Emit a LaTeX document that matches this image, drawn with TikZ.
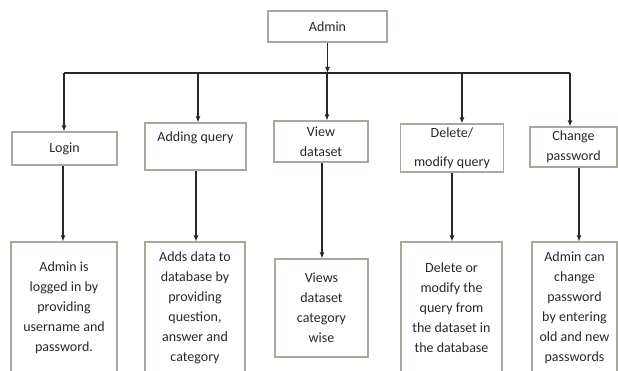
\documentclass[tikz,border=0pt]{standalone}
\usepackage{fontspec}
\setmainfont{Carlito}
\usepackage{xcolor}
\usepackage{tikz}
\usetikzlibrary{arrows.meta}
\usetikzlibrary{calc}
\usetikzlibrary{positioning}
\definecolor{boxline}{RGB}{165,170,155}
\definecolor{inkgrey}{RGB}{40,40,40}
\tikzset{
    head box/.style={
        draw=boxline,
        line width=1.1pt,
        align=center,
        text=inkgrey,
        inner sep=0pt,
        font=\fontsize{14}{20}\selectfont
    },
    desc box/.style={
        head box,
        minimum height=132pt
    },
    link/.style={
        draw=inkgrey,
        line width=1.3pt
    },
    link arrow/.style={
        link,
        -{Latex[length=6pt,width=5pt]}
    }
}
\begin{document}
\begin{tikzpicture}[x=1pt,y=-1pt]
            \useasboundingbox (0,0) rectangle (618,371);
            \node[head box,minimum width=119pt,minimum height=31pt] (admin) at (327.5,26.5) {Admin};
            \node[head box,minimum width=105pt,minimum height=33pt] (login) at (64.5,148.5) {Login};
            \node[head box,minimum width=101pt,minimum height=47pt] (adding) at (195.5,146.5) {Adding query\\\mbox{}};
            \node[head box,minimum width=94pt,minimum height=41pt] (view) at (321,141.5) {View\\dataset};
            \node[head box,minimum width=103pt,minimum height=48pt] (delete) at (452,148) {Delete/\\[9pt]modify query};
            \node[head box,minimum width=87pt,minimum height=40pt] (change) at (573.5,147) {Change\\password};
            % descriptions
            \node[desc box,minimum width=106pt] (loginD) at (64,308) {Admin is\\logged in by\\providing\\username and\\password.};
            \node[desc box,minimum width=100pt] (addingD) at (195,308) {Adds data to\\database by\\providing\\question,\\answer and\\category};
            \node[head box,minimum width=93pt,minimum height=98pt] (viewD) at (321.5,308) {Views\\dataset\\category\\wise};
            \node[desc box,minimum width=101pt] (deleteD) at (451.5,308) {Delete or\\modify the\\query from\\the dataset in\\the database};
            \node[desc box,minimum width=85pt] (changeD) at (574.5,308) {Admin can\\change\\password\\by entering\\old and new\\passwords};
            % bus
            \coordinate (busL) at (64,73);
            \coordinate (busR) at (570,73);
            \draw[link] (busL) -- (busR);
            \draw[link arrow] (admin.south) -- (admin.south |- busL);
            \foreach \s/\t in {64/login,198/adding,327/view,462/delete,570/change}
              \draw[link arrow] (\s,73) -- (\s,0 |- \t.north);
            \foreach \s/\t in {63/login,196/adding,322/view,452/delete,579/change}
              \draw[link arrow] (\s,0 |- \t.south) -- (\s,0 |- \t D.north);
          \end{tikzpicture}
\end{document}
